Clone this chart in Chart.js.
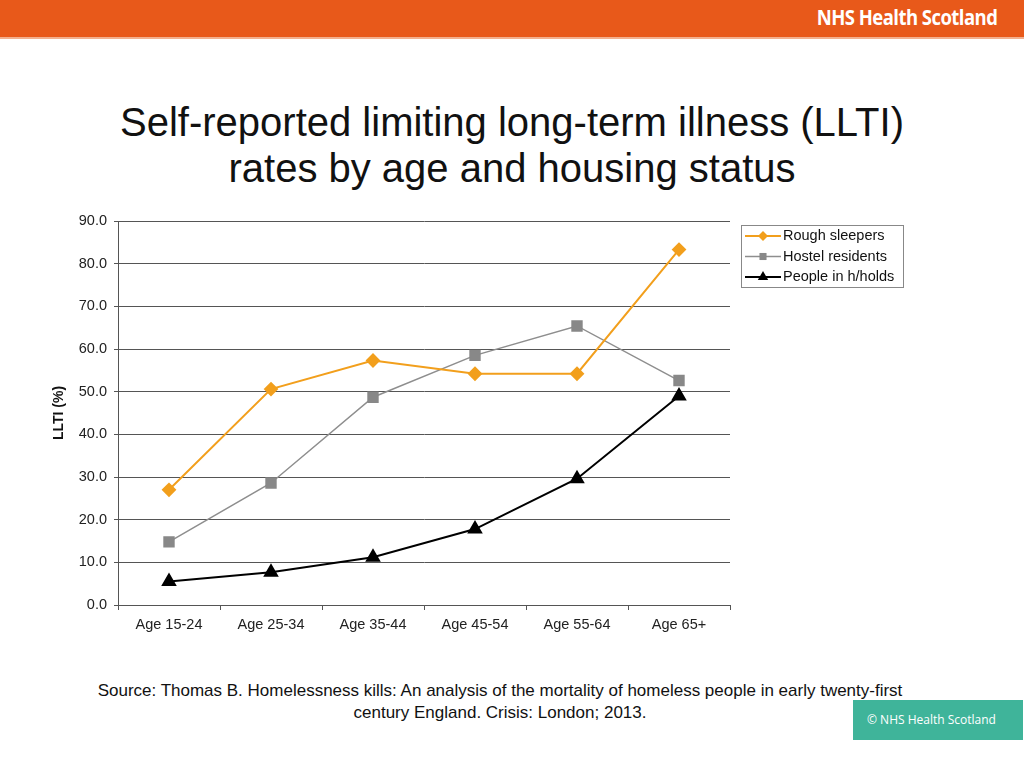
<!DOCTYPE html>
<html>
<head>
<meta charset="utf-8">
<script src="https://cdn.jsdelivr.net/npm/chart.js@4"></script>
<style>
  html, body { margin:0; padding:0; width:1024px; height:768px; background:#fff; overflow:hidden; font-family:"Liberation Sans", Arial, sans-serif; }
  #header { position:absolute; left:0; top:0; width:1024px; height:37px; background:#E8591A; border-bottom:2px solid #F3B08F; }
  #brand { position:absolute; right:27px; top:3px; color:#fff; font-family:"Open Sans", sans-serif; font-weight:700; font-size:21px; letter-spacing:-0.6px; transform:scaleX(0.88); transform-origin:right center; }
  #title { position:absolute; left:0; width:1024px; top:99px; text-align:center; font-size:40px; line-height:46px; color:#111; }
  #chartbox { position:absolute; left:0; top:200px; width:1024px; height:450px; }
  #source { position:absolute; left:0; width:1000px; top:680px; text-align:center; font-size:17px; line-height:22px; color:#111; }
  #badge { position:absolute; left:853px; top:700px; width:170px; height:40px; background:#3FB49A; color:#fff; font-family:"Open Sans", sans-serif; font-size:12px; line-height:40px; padding-left:14px; box-sizing:border-box; }
</style>
</head>
<body>
<div id="header"><div id="brand">NHS Health Scotland</div></div>
<div id="title">Self-reported limiting long-term illness (LLTI)<br>rates by age and housing status</div>
<div id="chartbox"><canvas id="c" width="1024" height="450"></canvas></div>
<div id="source">Source: Thomas B. Homelessness kills: An analysis of the mortality of homeless people in early twenty-first<br>century England. Crisis: London; 2013.</div>
<div id="badge">© NHS Health Scotland</div>
<script>
const categories = ["Age 15-24", "Age 25-34", "Age 35-44", "Age 45-54", "Age 55-64", "Age 65+"];
const roughSleepers = [27.0, 50.6, 57.3, 54.2, 54.2, 83.3];
const hostelResidents = [14.8, 28.6, 48.7, 58.5, 65.4, 52.6];
const peopleInHouseholds = [5.5, 7.7, 11.2, 17.8, 29.6, 49.0];
const seriesLabels = ["Rough sleepers", "Hostel residents", "People in h/holds"];
const yTicks = [0, 10, 20, 30, 40, 50, 60, 70, 80, 90];

const FONT = '"Liberation Sans", Arial, sans-serif';

const legendPlugin = {
  id: 'boxLegend',
  afterDraw(chart) {
    const ctx = chart.ctx;
    const x0 = 741, y0 = 25, w = 162, h = 62;
    ctx.save();
    ctx.fillStyle = '#fff';
    ctx.fillRect(x0, y0, w, h);
    ctx.strokeStyle = '#888';
    ctx.lineWidth = 1;
    ctx.strokeRect(x0 + 0.5, y0 + 0.5, w, h);
    chart.data.datasets.forEach((ds, i) => {
      const y = y0 + 11 + i * 20.5;
      ctx.strokeStyle = ds.borderColor;
      ctx.lineWidth = ds.borderWidth;
      ctx.beginPath(); ctx.moveTo(x0 + 4, y); ctx.lineTo(x0 + 40, y); ctx.stroke();
      ctx.fillStyle = ds.pointBackgroundColor;
      ctx.strokeStyle = ds.pointBackgroundColor;
      Chart.helpers.drawPoint(ctx, { pointStyle: ds.pointStyle, radius: ds.legendRadius, rotation: 0, borderWidth: 0 }, x0 + 22, y);
      ctx.fillStyle = '#111';
      ctx.font = '14.5px ' + FONT;
      ctx.textBaseline = 'middle';
      ctx.textAlign = 'left';
      ctx.fillText(ds.label, x0 + 42, y);
    });
    ctx.restore();
  }
};

new Chart(document.getElementById('c'), {
  type: 'line',
  data: {
    labels: categories,
    datasets: [
      { label: seriesLabels[0], data: roughSleepers, borderColor: '#F29F1C', backgroundColor: '#F29F1C', pointBackgroundColor: '#F29F1C', pointBorderColor: '#F29F1C', borderWidth: 2, pointStyle: 'rectRot', pointRadius: 6, legendRadius: 5, tension: 0 },
      { label: seriesLabels[1], data: hostelResidents, borderColor: '#8E8E8E', backgroundColor: '#888888', pointBackgroundColor: '#888888', pointBorderColor: '#888888', borderWidth: 1.5, pointStyle: 'rect', pointRadius: 7, legendRadius: 5, tension: 0 },
      { label: seriesLabels[2], data: peopleInHouseholds, borderColor: '#000000', backgroundColor: '#000000', pointBackgroundColor: '#000000', pointBorderColor: '#000000', borderWidth: 2, pointStyle: 'triangle', pointRadius: 7, legendRadius: 6, tension: 0 }
    ]
  },
  options: {
    responsive: false,
    animation: false,
    layout: { padding: { left: 40, right: 294, top: 21, bottom: 0 } },
    plugins: { legend: { display: false }, tooltip: { enabled: false } },
    scales: {
      x: {
        offset: true,
        grid: {
          offset: true,
          drawOnChartArea: true,
          color: (c) => c.index === categories.length ? '#666' : 'rgba(0,0,0,0)',
          tickColor: '#555',
          tickLength: 5,
          lineWidth: 1
        },
        border: { color: '#555', width: 1 },
        ticks: { color: '#222', padding: 6, font: { family: FONT, size: 14.5 } },
        afterFit: (s) => { s.height = 45; }
      },
      y: {
        min: 0, max: 90,
        afterBuildTicks: (s) => { s.ticks = yTicks.map(v => ({ value: v })); },
        grid: { color: '#555', tickColor: '#555', tickLength: 4, lineWidth: 1 },
        border: { color: '#555', width: 1 },
        ticks: { color: '#222', padding: 7, callback: (v) => Number(v).toFixed(1), font: { family: FONT, size: 14.5 } },
        title: { display: true, text: 'LLTI (%)', color: '#111', padding: { top: 11, bottom: 0 }, font: { family: FONT, size: 14, weight: 'bold' } },
        afterFit: (s) => { s.width = 78; }
      }
    }
  },
  plugins: [legendPlugin]
});
</script>
</body>
</html>
